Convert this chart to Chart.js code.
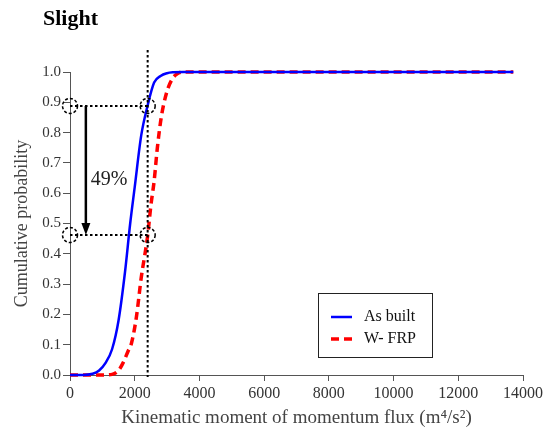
<!DOCTYPE html>
<html>
<head>
<meta charset="utf-8">
<script src="https://cdn.jsdelivr.net/npm/chart.js@4.4.1/dist/chart.umd.min.js"></script>
<style>
  html, body { margin: 0; padding: 0; background: #fff; }
  #wrap { width: 546px; height: 432px; position: relative; }
</style>
</head>
<body>
<div id="wrap"><canvas id="c" width="546" height="432"></canvas></div>
<script>
// ---- Data ----
const chartTitle = 'Slight';
const xTitle = 'Kinematic moment of momentum flux (m\u2074/s\u00b2)';
const yTitle = 'Cumulative probability';

const seriesNames = ['As built', 'W- FRP'];

const asBuiltX = [0, 400, 700, 900, 1100, 1300, 1500, 1700, 1860, 2000, 2200, 2400, 2600, 2800, 3000, 3200, 3500, 13700];
const asBuiltY = [0, 0, 0.004, 0.015, 0.04, 0.085, 0.18, 0.34, 0.50, 0.62, 0.79, 0.89, 0.965, 0.987, 0.996, 0.999, 1.0, 1.0];

const wfrpX = [0, 1000, 1300, 1500, 1640, 1800, 1900, 2050, 2200, 2400, 2500, 2600, 2700, 2820, 2980, 3150, 3300, 3500, 13700];
const wfrpY = [0, 0, 0.002, 0.015, 0.04, 0.08, 0.105, 0.19, 0.32, 0.46, 0.56, 0.64, 0.75, 0.85, 0.93, 0.975, 0.993, 1.0, 1.0];

const xMin = 0, xMax = 14000, xStep = 2000;
const yMin = 0, yMax = 1, yStep = 0.1;

// annotation values
const refX = 2400;                // vertical dotted reference line
const refLevels = [0.888, 0.462]; // horizontal dotted lines / circles
const arrowX = 490;               // arrow position (x value)
const arrowLabel = '49%';

const SERIF = '"Liberation Serif", "Times New Roman", serif';

const toPoints = (xs, ys) => xs.map((x, i) => ({ x: x, y: ys[i] }));

const annotPlugin = {
  id: 'annot',
  afterDatasetsDraw(chart) {
    const ctx = chart.ctx;
    const xs = chart.scales.x, ys = chart.scales.y;
    const area = chart.chartArea;
    ctx.save();
    // vertical dotted line
    const vx = xs.getPixelForValue(refX);
    ctx.strokeStyle = '#000';
    ctx.lineWidth = 2;
    ctx.setLineDash([2.5, 2.5]);
    ctx.beginPath();
    ctx.moveTo(vx, area.top - 22);
    ctx.lineTo(vx, area.bottom + 2);
    ctx.stroke();
    // horizontal dotted lines
    refLevels.forEach(l => {
      const py = ys.getPixelForValue(l);
      ctx.beginPath();
      ctx.moveTo(xs.getPixelForValue(xMin), py);
      ctx.lineTo(vx, py);
      ctx.stroke();
    });
    // dashed circles
    ctx.lineWidth = 1.5;
    ctx.setLineDash([3, 2]);
    refLevels.forEach(l => {
      const py = ys.getPixelForValue(l);
      [xMin, refX].forEach(xv => {
        ctx.beginPath();
        ctx.arc(xs.getPixelForValue(xv), py, 7.5, 0, Math.PI * 2);
        ctx.stroke();
      });
    });
    // arrow
    ctx.setLineDash([]);
    const ax = xs.getPixelForValue(arrowX);
    const ay0 = ys.getPixelForValue(refLevels[0]);
    const ay1 = ys.getPixelForValue(refLevels[1]);
    ctx.lineWidth = 2.5;
    ctx.beginPath();
    ctx.moveTo(ax, ay0);
    ctx.lineTo(ax, ay1 - 10);
    ctx.stroke();
    ctx.fillStyle = '#000';
    ctx.beginPath();
    ctx.moveTo(ax - 4.5, ay1 - 12);
    ctx.lineTo(ax + 4.5, ay1 - 12);
    ctx.lineTo(ax, ay1);
    ctx.closePath();
    ctx.fill();
    // arrow label
    ctx.fillStyle = '#222';
    ctx.font = '20px ' + SERIF;
    ctx.textAlign = 'left';
    ctx.textBaseline = 'middle';
    ctx.fillText(arrowLabel, ax + 5, (ay0 + ay1) / 2 + 9);

    // legend box
    const lx = 318, ly = 293, lw = 114, lh = 64;
    ctx.lineWidth = 1;
    ctx.strokeStyle = '#222';
    ctx.strokeRect(lx + 0.5, ly + 0.5, lw, lh);
    chart.data.datasets.forEach((ds, i) => {
      const yy = ly + 24 + i * 22;
      ctx.strokeStyle = ds.borderColor;
      ctx.lineWidth = ds.borderWidth;
      ctx.setLineDash(ds.borderDash || []);
      ctx.beginPath();
      ctx.moveTo(lx + 13, yy);
      ctx.lineTo(lx + 34, yy);
      ctx.stroke();
      ctx.setLineDash([]);
      ctx.fillStyle = '#111';
      ctx.font = '16px ' + SERIF;
      ctx.textAlign = 'left';
      ctx.textBaseline = 'middle';
      ctx.fillText(ds.label, lx + 46, yy);
    });

    // chart title
    ctx.fillStyle = '#000';
    ctx.font = 'bold 22px ' + SERIF;
    ctx.textAlign = 'left';
    ctx.textBaseline = 'alphabetic';
    ctx.fillText(chartTitle, 43, 25);
    ctx.restore();
  }
};

new Chart(document.getElementById('c'), {
  type: 'line',
  data: {
    datasets: [
      {
        label: seriesNames[0],
        data: toPoints(asBuiltX, asBuiltY),
        borderColor: '#0000ff',
        borderWidth: 2.5,
        pointRadius: 0,
        cubicInterpolationMode: 'monotone',
        fill: false,
        clip: false
      },
      {
        label: seriesNames[1],
        data: toPoints(wfrpX, wfrpY),
        borderColor: '#ff0000',
        borderWidth: 3.5,
        borderDash: [8, 5],
        pointRadius: 0,
        cubicInterpolationMode: 'monotone',
        fill: false,
        clip: false
      }
    ]
  },
  options: {
    responsive: false,
    animation: false,
    layout: { padding: { top: 72, right: 20, left: 0, bottom: 0 } },
    plugins: { legend: { display: false }, tooltip: { enabled: false }, title: { display: false } },
    scales: {
      x: {
        type: 'linear',
        min: xMin, max: xMax,
        ticks: { stepSize: xStep, color: '#333', font: { family: SERIF, size: 16 }, padding: 3, maxRotation: 0, callback: v => String(v) },
        grid: { drawOnChartArea: false, drawTicks: true, tickLength: 6, color: '#555' },
        border: { color: '#555', width: 1 },
        title: { display: true, text: xTitle, color: '#444', font: { family: SERIF, size: 19 }, padding: { top: 0, bottom: 3 } },
        afterFit(scale) { scale.height = 57; }
      },
      y: {
        type: 'linear',
        min: yMin, max: yMax,
        ticks: { stepSize: yStep, color: '#333', font: { family: SERIF, size: 15 }, padding: 2, callback: v => v.toFixed(1) },
        grid: { drawOnChartArea: false, drawTicks: true, tickLength: 7, color: '#555' },
        border: { color: '#555', width: 1 },
        title: { display: true, text: yTitle, color: '#444', font: { family: SERIF, size: 18 }, padding: { top: 11, bottom: 0 } },
        afterFit(scale) { scale.width = 70; }
      }
    }
  },
  plugins: [annotPlugin]
});
</script>
</body>
</html>
